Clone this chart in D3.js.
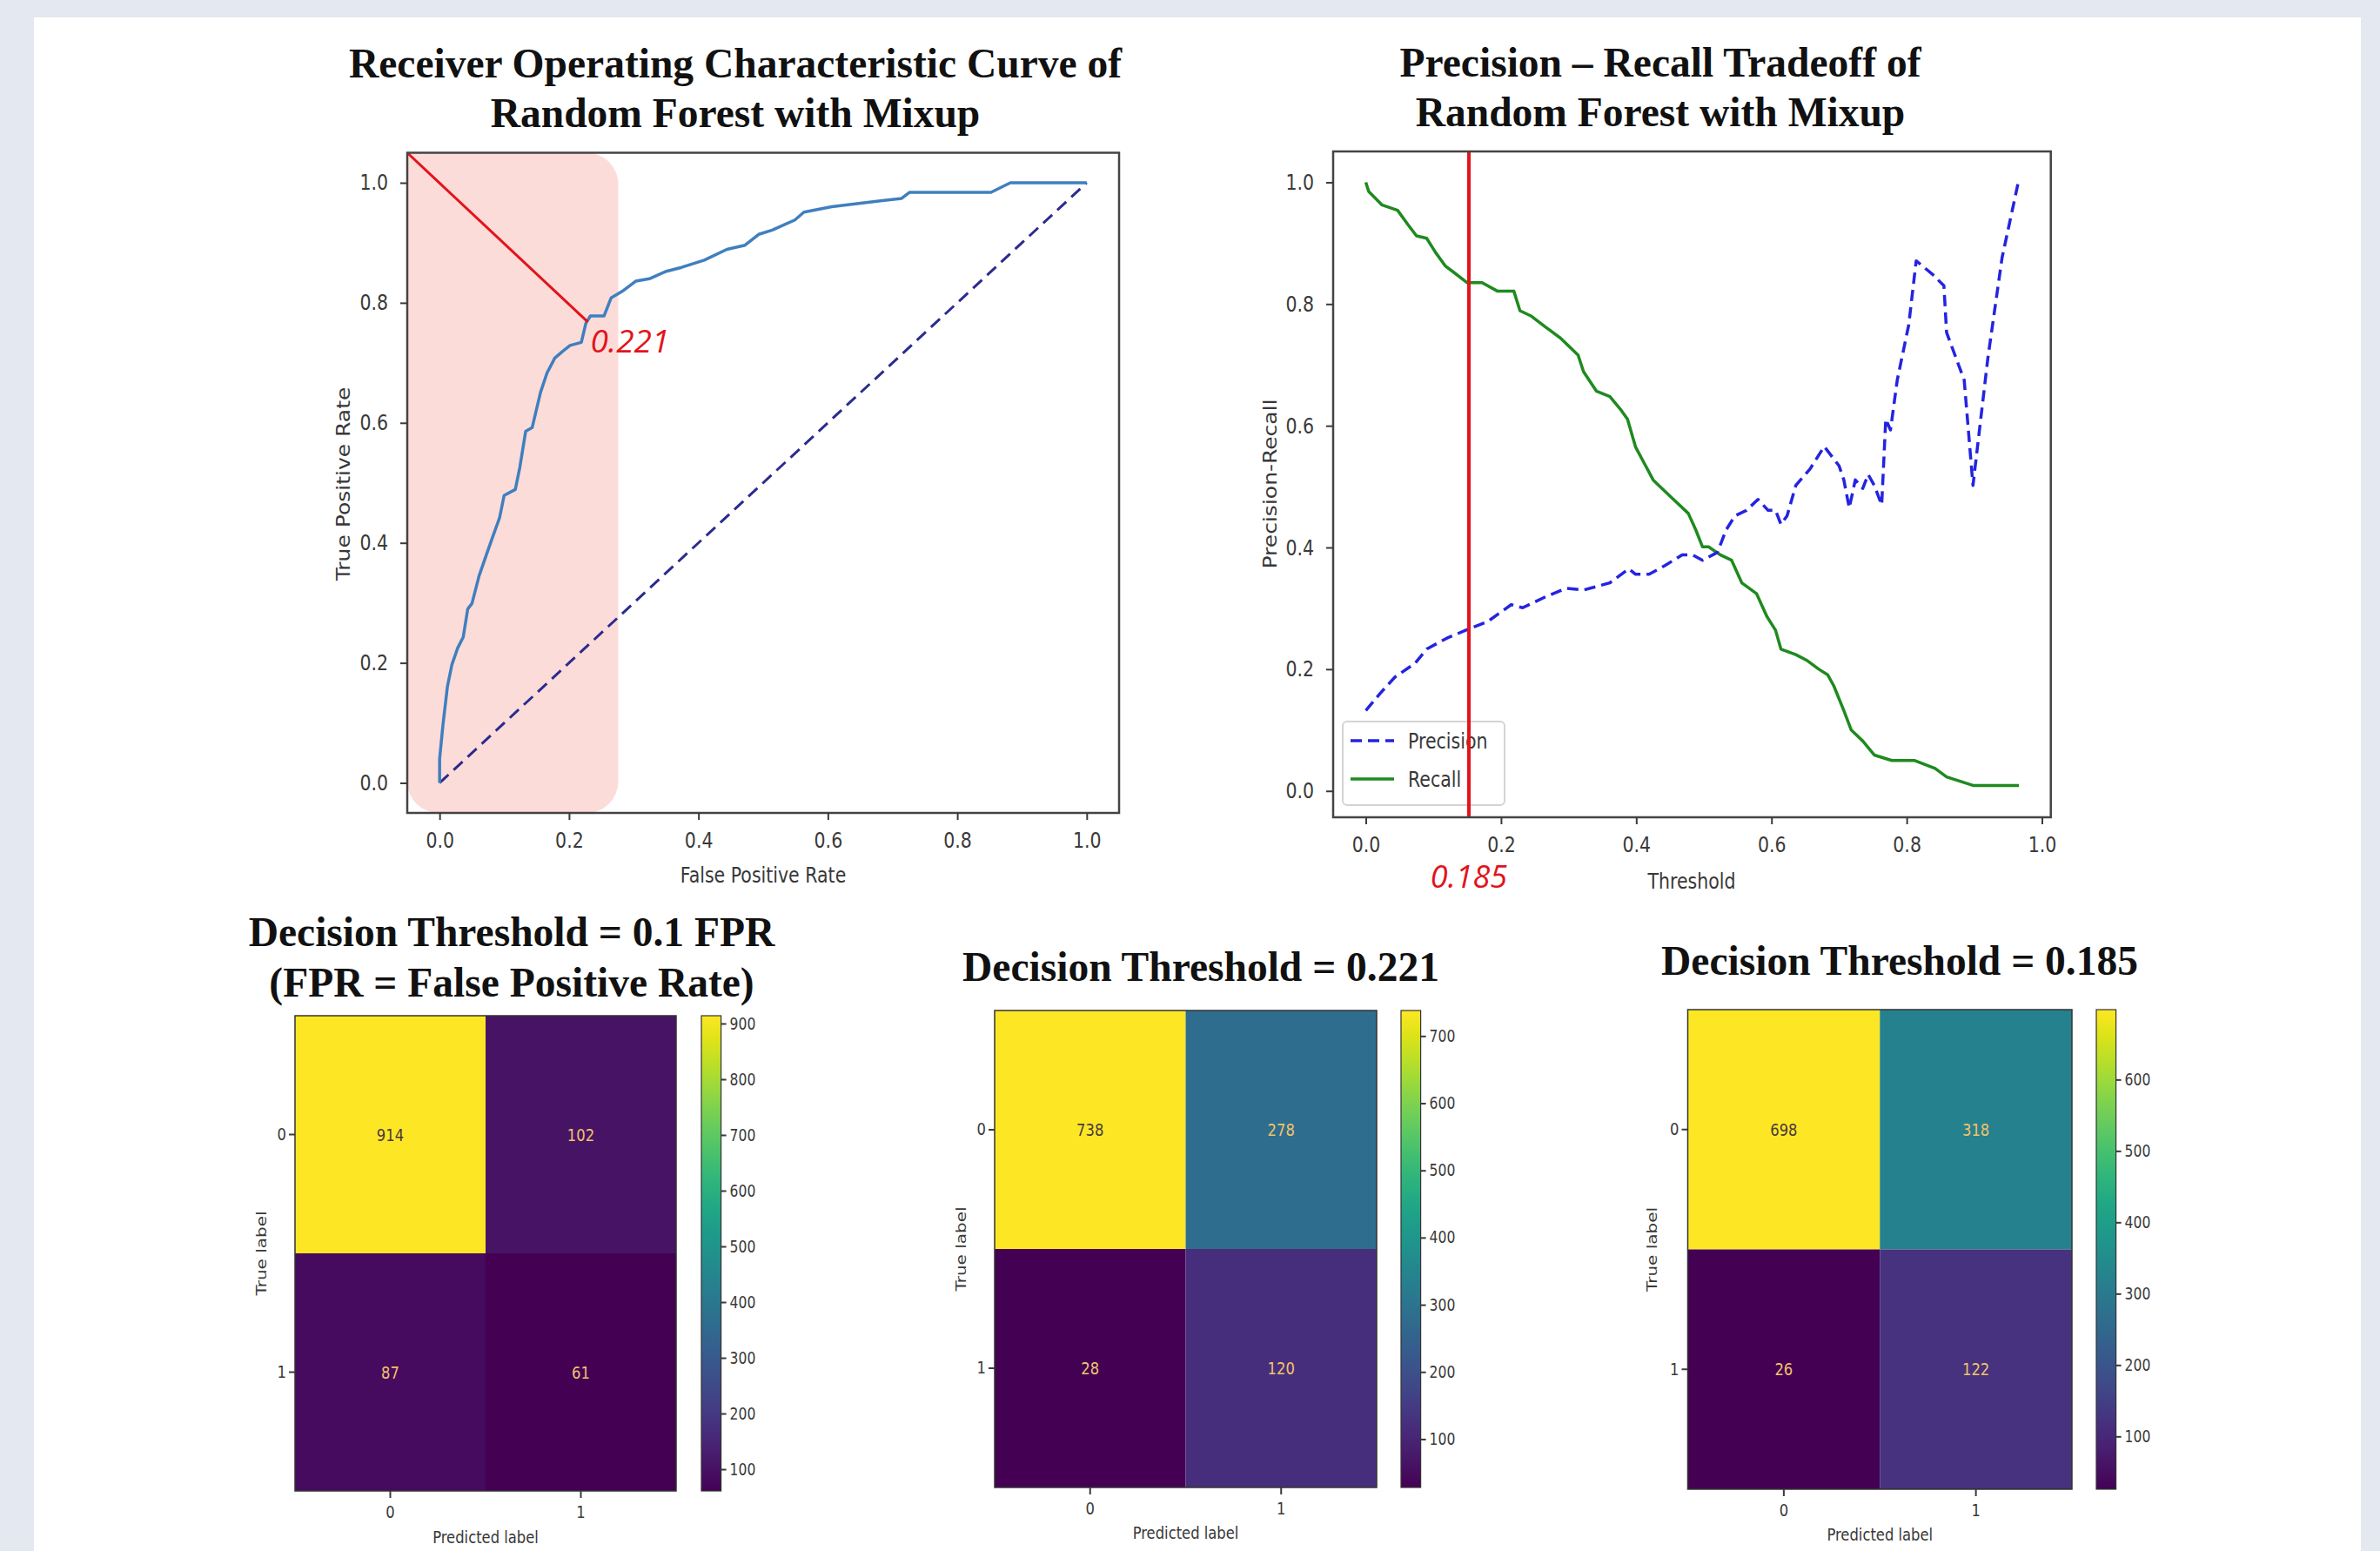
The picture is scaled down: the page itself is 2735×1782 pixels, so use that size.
<!DOCTYPE html>
<html>
<head>
<meta charset="utf-8">
<script src="https://cdn.jsdelivr.net/npm/d3@7"></script>
<style>
  body { margin: 0; background: #e4e8f0; }
  svg { display: block; }
</style>
</head>
<body>
<div id="chart"></div>
<script>
// ---- ROC curve ----
var rocFpr = [0, 0, 0.005, 0.012, 0.019, 0.028, 0.0365, 0.0435, 0.05, 0.061,
  0.0716, 0.082, 0.0927, 0.0997, 0.117, 0.124, 0.133, 0.143, 0.156, 0.166,
  0.178, 0.191, 0.2016, 0.219, 0.226, 0.233, 0.254, 0.265, 0.282, 0.303,
  0.324, 0.349, 0.374, 0.409, 0.444, 0.472, 0.493, 0.514, 0.549, 0.563,
  0.606, 0.628, 0.714, 0.726, 0.852, 0.882, 1.0];
var rocTpr = [0, 0.04, 0.095, 0.16, 0.197, 0.225, 0.243, 0.29, 0.299, 0.345,
  0.378, 0.41, 0.442, 0.479, 0.489, 0.526, 0.586, 0.592, 0.651, 0.683,
  0.708, 0.72, 0.729, 0.734, 0.766, 0.778, 0.778, 0.808, 0.819, 0.836,
  0.84, 0.852, 0.859, 0.871, 0.889, 0.896, 0.914, 0.921, 0.938, 0.951,
  0.96, 0.963, 0.974, 0.984, 0.984, 1.0, 1.0];
var rocChance = [0, 1];
var rocMarker = { fpr: 0.229, tpr: 0.768, label: "0.221" };
var rocHighlight = [-0.05, 0.276];

// ---- precision / recall vs threshold ----
var precThr = [0, 0.021, 0.043, 0.073, 0.09, 0.12, 0.150, 0.180, 0.215, 0.232,
  0.266, 0.296, 0.322, 0.361, 0.389, 0.399, 0.419, 0.442, 0.468, 0.483,
  0.498, 0.520, 0.533, 0.546, 0.563, 0.58, 0.595, 0.606, 0.614, 0.623,
  0.636, 0.657, 0.678, 0.700, 0.707, 0.715, 0.724, 0.735, 0.743, 0.752,
  0.763, 0.769, 0.776, 0.786, 0.803, 0.814, 0.838, 0.855, 0.859, 0.885,
  0.898, 0.920, 0.941, 0.965];
var precVal = [0.132, 0.16, 0.187, 0.21, 0.233, 0.251, 0.265, 0.278, 0.306, 0.301,
  0.319, 0.333, 0.33, 0.342, 0.365, 0.356, 0.356, 0.37, 0.388, 0.388,
  0.379, 0.392, 0.429, 0.452, 0.461, 0.479, 0.461, 0.461, 0.438, 0.452,
  0.502, 0.529, 0.566, 0.534, 0.511, 0.465, 0.511, 0.497, 0.52, 0.502,
  0.47, 0.611, 0.593, 0.675, 0.766, 0.871, 0.849, 0.83, 0.753, 0.675,
  0.502, 0.711, 0.876, 1.0];
var recThr = [0, 0.0043, 0.0236, 0.047, 0.062, 0.075, 0.09, 0.103, 0.118, 0.129,
  0.150, 0.172, 0.195, 0.219, 0.228, 0.245, 0.266, 0.288, 0.301, 0.314,
  0.322, 0.341, 0.361, 0.378, 0.387, 0.399, 0.412, 0.425, 0.438, 0.455,
  0.477, 0.488, 0.498, 0.507, 0.524, 0.541, 0.556, 0.578, 0.593, 0.606,
  0.614, 0.636, 0.653, 0.670, 0.683, 0.692, 0.707, 0.718, 0.735, 0.752,
  0.778, 0.812, 0.842, 0.859, 0.898, 0.966];
var recVal = [1.0, 0.985, 0.963, 0.954, 0.931, 0.912, 0.908, 0.885, 0.862, 0.853,
  0.835, 0.835, 0.821, 0.821, 0.789, 0.78, 0.762, 0.744, 0.73, 0.716,
  0.689, 0.657, 0.648, 0.625, 0.611, 0.565, 0.538, 0.511, 0.497, 0.479,
  0.456, 0.429, 0.401, 0.401, 0.388, 0.379, 0.342, 0.324, 0.287, 0.264,
  0.233, 0.224, 0.214, 0.2, 0.191, 0.173, 0.132, 0.1, 0.082, 0.059,
  0.05, 0.05, 0.037, 0.023, 0.009, 0.009];
var prMarker = { thr: 0.1525, label: "0.185" };
var prLegend = ["Precision", "Recall"];

var axisTicks = [0, 0.2, 0.4, 0.6, 0.8, 1.0];

// ---- confusion matrices ----
var cmClasses = ["0", "1"];
var cmValues = [
  [[914, 102], [87, 61]],
  [[738, 278], [28, 120]],
  [[698, 318], [26, 122]]
];
var cmTitles = [
  ["Decision Threshold = 0.1 FPR", "(FPR = False Positive Rate)"],
  ["Decision Threshold = 0.221"],
  ["Decision Threshold = 0.185"]
];
var cbTicks = [
  [100, 200, 300, 400, 500, 600, 700, 800, 900],
  [100, 200, 300, 400, 500, 600, 700],
  [100, 200, 300, 400, 500, 600]
];

var W = 2735, H = 1782;
var SQ = 0.82; // chart text in the slide is squeezed sideways
var red = "#e3131b";

var svg = d3.select("#chart").append("svg")
  .attr("width", W).attr("height", H);

svg.append("rect").attr("width", W).attr("height", H).attr("fill", "#e4e8f0");
svg.append("rect").attr("x", 39).attr("y", 20).attr("width", 2674).attr("height", H - 20)
  .attr("fill", "#ffffff");

function note(g, x, y, txt, size, o) {
  o = o || {};
  var sq = o.sq == null ? SQ : o.sq;
  return g.append("text")
    .attr("transform", "translate(" + x + "," + y + ") scale(" + sq + ",1)" + (o.rot ? " rotate(-90)" : ""))
    .attr("text-anchor", o.anchor || "middle")
    .style("font-family", o.font || "DejaVu Sans")
    .style("font-size", size + "px")
    .style("font-weight", o.weight || "normal")
    .style("font-style", o.italic ? "italic" : "normal")
    .style("fill", o.fill || "#383838")
    .text(txt);
}

function title(lines, cx, baselines) {
  lines.forEach(function(t, i) {
    note(svg, cx, baselines[i], t, 47.5, { sq: 1, font: "Liberation Serif", weight: "bold", fill: "#111" });
  });
}

function squeeze(g) {
  g.selectAll(".tick text").each(function() {
    var t = d3.select(this), x = +t.attr("x") || 0;
    t.attr("x", x / SQ).attr("transform", "scale(" + SQ + ",1)");
  });
}

function styleAxis(g, size) {
  g.style("font-family", "DejaVu Sans").style("font-size", size + "px").style("color", "#3a3a3a");
  g.select(".domain").remove();
  g.selectAll(".tick line").attr("stroke-width", 2);
  squeeze(g);
}

var fmt = d3.format(".1f");

// ================= ROC =================
var rx = d3.scaleLinear().domain([-0.05, 1.05]).range([468, 1286]);
var ry = d3.scaleLinear().domain([-0.05, 1.05]).range([934, 175.5]);

title(["Receiver Operating Characteristic Curve of", "Random Forest with Mixup"], 845, [89, 146]);

var roc = svg.append("g");
var hx0 = rx(rocHighlight[0]), hx1 = rx(rocHighlight[1]), hy0 = ry.range()[1], hy1 = ry.range()[0], r = 36;
var hp = d3.path();
hp.moveTo(hx0, hy0);
hp.lineTo(hx1 - r, hy0);
hp.arcTo(hx1, hy0, hx1, hy0 + r, r);
hp.lineTo(hx1, hy1 - r);
hp.arcTo(hx1, hy1, hx1 - r, hy1, r);
hp.lineTo(hx0 + r, hy1);
hp.arcTo(hx0, hy1, hx0, hy1 - r, r);
hp.closePath();
roc.append("path").attr("d", hp.toString()).attr("fill", "#fcdcd8");

roc.append("path")
  .attr("d", d3.line().x(d => rx(d)).y(d => ry(d))(rocChance))
  .attr("fill", "none").attr("stroke", "#2b2b8f").attr("stroke-width", 3)
  .attr("stroke-dasharray", "14,8");

roc.append("path")
  .attr("d", d3.line().x(d => rx(d[0])).y(d => ry(d[1]))(d3.zip(rocFpr, rocTpr)))
  .attr("fill", "none").attr("stroke", "#3f7fbf").attr("stroke-width", 3.5)
  .attr("stroke-linejoin", "round");

roc.append("line")
  .attr("x1", rx(-0.05)).attr("y1", ry(1.05))
  .attr("x2", rx(rocMarker.fpr)).attr("y2", ry(rocMarker.tpr))
  .attr("stroke", red).attr("stroke-width", 3);

note(roc, rx(rocMarker.fpr) + 3, ry(rocMarker.tpr) + 35, rocMarker.label, 37,
  { sq: 1, anchor: "start", font: "Open Sans", italic: true, fill: red });

roc.append("rect").attr("x", 468).attr("y", 175.5).attr("width", 818).attr("height", 758.5)
  .attr("fill", "none").attr("stroke", "#444").attr("stroke-width", 2.5);

roc.append("g").attr("transform", "translate(0,934)")
  .call(d3.axisBottom(rx).tickValues(axisTicks).tickFormat(fmt).tickSize(8).tickPadding(14))
  .call(g => styleAxis(g, 25));
roc.append("g").attr("transform", "translate(468,0)")
  .call(d3.axisLeft(ry).tickValues(axisTicks).tickFormat(fmt).tickSize(8).tickPadding(14))
  .call(g => styleAxis(g, 25));

note(roc, 877, 1014, "False Positive Rate", 25);
note(roc, 402, 556, "True Positive Rate", 25, { rot: true });

// ================= Precision / Recall =================
var px = d3.scaleLinear().domain([-0.0483, 1.0131]).range([1532, 2356.7]);
var py = d3.scaleLinear().domain([-0.0433, 1.0507]).range([939, 174]);

title(["Precision \u2013 Recall Tradeoff of", "Random Forest with Mixup"], 1908, [88, 145]);

var pr = svg.append("g");
pr.append("path")
  .attr("d", d3.line().x(d => px(d[0])).y(d => py(d[1]))(d3.zip(recThr, recVal)))
  .attr("fill", "none").attr("stroke", "#1f8a1f").attr("stroke-width", 3.5)
  .attr("stroke-linejoin", "round");
pr.append("path")
  .attr("d", d3.line().x(d => px(d[0])).y(d => py(d[1]))(d3.zip(precThr, precVal)))
  .attr("fill", "none").attr("stroke", "#2424e0").attr("stroke-width", 3.5)
  .attr("stroke-dasharray", "13,7").attr("stroke-linejoin", "round");

// legend
var lg = pr.append("g");
lg.append("rect").attr("x", 1543).attr("y", 829).attr("width", 186).attr("height", 96)
  .attr("rx", 5).attr("fill", "#fff").attr("fill-opacity", 0.85)
  .attr("stroke", "#d4d4d4").attr("stroke-width", 2);
prLegend.forEach(function(name, i) {
  var y = 851 + i * 44;
  lg.append("line").attr("x1", 1552).attr("x2", 1602).attr("y1", y).attr("y2", y)
    .attr("stroke", i === 0 ? "#2424e0" : "#1f8a1f").attr("stroke-width", 3.5)
    .attr("stroke-dasharray", i === 0 ? "13,7" : null);
  note(lg, 1618, y + 9, name, 25, { anchor: "start" });
});

pr.append("line")
  .attr("x1", px(prMarker.thr)).attr("x2", px(prMarker.thr))
  .attr("y1", py.range()[1]).attr("y2", py.range()[0])
  .attr("stroke", red).attr("stroke-width", 4);

pr.append("rect").attr("x", 1532).attr("y", 174).attr("width", 824.7).attr("height", 765)
  .attr("fill", "none").attr("stroke", "#444").attr("stroke-width", 2.5);

pr.append("g").attr("transform", "translate(0,939)")
  .call(d3.axisBottom(px).tickValues(axisTicks).tickFormat(fmt).tickSize(8).tickPadding(14))
  .call(g => styleAxis(g, 25));
pr.append("g").attr("transform", "translate(1532,0)")
  .call(d3.axisLeft(py).tickValues(axisTicks).tickFormat(fmt).tickSize(8).tickPadding(14))
  .call(g => styleAxis(g, 25));

note(pr, 1944, 1021, "Threshold", 25);
note(pr, 1467, 556, "Precision-Recall", 25, { rot: true });
note(pr, px(prMarker.thr), 1020, prMarker.label, 36,
  { sq: 1, font: "Open Sans", italic: true, fill: red });

// ================= Confusion matrices =================
var cmLayout = [
  { x0: 339, x1: 777, y0: 1167, y1: 1713, cb: 806, tx: 588, ty: [1087, 1145], lx: 299, ly: 1773 },
  { x0: 1143, x1: 1582, y0: 1161, y1: 1709, cb: 1610, tx: 1380, ty: [1127], lx: 1103, ly: 1768 },
  { x0: 1939.5, x1: 2381, y0: 1160, y1: 1711, cb: 2409, tx: 2183, ty: [1120], lx: 1897, ly: 1770 }
];

var defs = svg.append("defs");
var grad = defs.append("linearGradient").attr("id", "viridis")
  .attr("x1", 0).attr("y1", 1).attr("x2", 0).attr("y2", 0);
d3.range(0, 1.0001, 0.05).forEach(function(t) {
  grad.append("stop").attr("offset", t).attr("stop-color", d3.interpolateViridis(t));
});

cmValues.forEach(function(m, k) {
  var L = cmLayout[k];
  var flat = d3.merge(m);
  var vmin = d3.min(flat), vmax = d3.max(flat);
  var norm = d3.scaleLinear().domain([vmin, vmax]).range([0, 1]);
  var cx = d3.scaleBand().domain(cmClasses).range([L.x0, L.x1]);
  var cy = d3.scaleBand().domain(cmClasses).range([L.y0, L.y1]);
  var g = svg.append("g");

  title(cmTitles[k], L.tx, L.ty);

  var cells = [];
  m.forEach(function(row, i) {
    row.forEach(function(v, j) { cells.push({ r: cmClasses[i], c: cmClasses[j], v: v }); });
  });

  g.selectAll("rect.cell").data(cells).enter().append("rect")
    .attr("class", "cell")
    .attr("x", d => cx(d.c)).attr("y", d => cy(d.r))
    .attr("width", cx.bandwidth()).attr("height", cy.bandwidth())
    .attr("fill", d => d3.interpolateViridis(norm(d.v)));

  cells.forEach(function(d) {
    note(g, cx(d.c) + cx.bandwidth() / 2, cy(d.r) + cy.bandwidth() / 2 + 7, d.v, 20,
      { fill: norm(d.v) > 0.5 ? "#4a3a3e" : "#f0c46c" });
  });

  g.append("rect").attr("x", L.x0).attr("y", L.y0)
    .attr("width", L.x1 - L.x0).attr("height", L.y1 - L.y0)
    .attr("fill", "none").attr("stroke", "#333").attr("stroke-width", 1.5);

  g.append("g").attr("transform", "translate(0," + L.y1 + ")")
    .call(d3.axisBottom(cx).tickSize(8).tickPadding(9))
    .call(a => styleAxis(a, 20));
  g.append("g").attr("transform", "translate(" + L.x0 + ",0)")
    .call(d3.axisLeft(cy).tickSize(7).tickPadding(3))
    .call(a => styleAxis(a, 20));

  note(g, (L.x0 + L.x1) / 2, L.ly, "Predicted label", 20);
  note(g, L.lx + 7, (L.y0 + L.y1) / 2, "True label", 20, { rot: true });

  // colorbar
  var cbw = 22.6;
  var cs = d3.scaleLinear().domain([vmin, vmax]).range([L.y1, L.y0]);
  g.append("rect").attr("x", L.cb).attr("y", L.y0).attr("width", cbw).attr("height", L.y1 - L.y0)
    .attr("fill", "url(#viridis)").attr("stroke", "#333").attr("stroke-width", 1.2);
  g.append("g").attr("transform", "translate(" + (L.cb + cbw) + ",0)")
    .call(d3.axisRight(cs).tickValues(cbTicks[k]).tickSize(6).tickPadding(4))
    .call(a => styleAxis(a, 19));
});
</script>
</body>
</html>
